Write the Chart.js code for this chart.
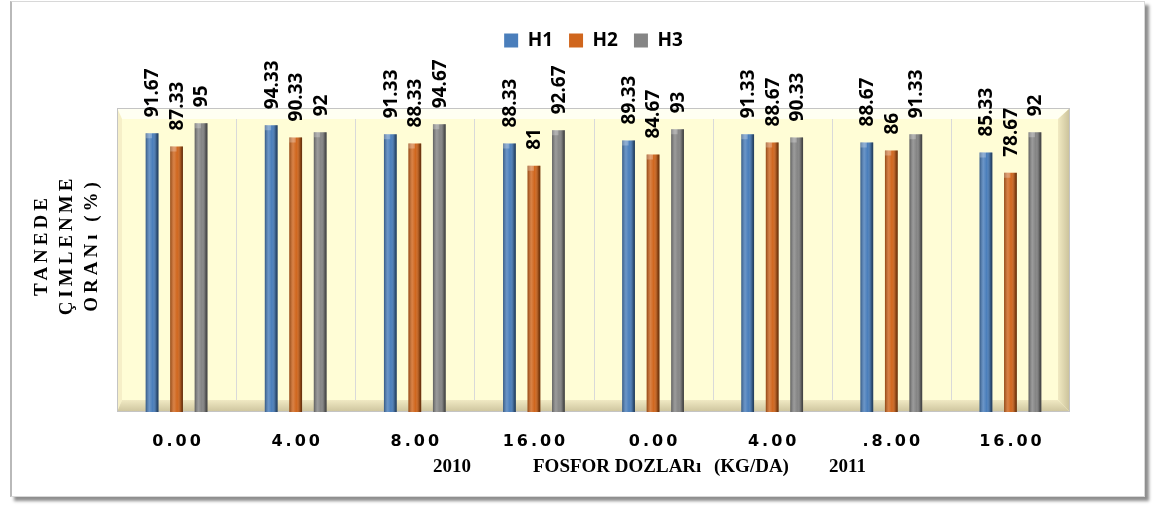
<!DOCTYPE html>
<html>
<head>
<meta charset="utf-8">
<script src="https://cdn.jsdelivr.net/npm/chart.js@4.4.0/dist/chart.umd.min.js"></script>
<style>
  html, body { margin: 0; padding: 0; background: #fff; }
  body { width: 1156px; height: 508px; position: relative; overflow: hidden; }
  .frame {
    position: absolute; left: 10px; top: 1px; width: 1132px; height: 494px;
    border: 1px solid #d8d8d8; border-left: 2px solid #b9b9b9;
    box-shadow: 4px 4px 3px #8e8e8e;
  }
  #wrap { position: absolute; left: 0; top: 0; width: 1156px; height: 508px; }
</style>
</head>
<body>
<div class="frame"></div>
<div id="wrap"><canvas id="chart"></canvas></div>
<script>
// phosphorus doses (kg/da), 2010 then 2011
const doses = ['0.00', '4.00', '8.00', '16.00', '0.00', '4.00', '.8.00', '16.00'];
const h1 = [91.67, 94.33, 91.33, 88.33, 89.33, 91.33, 88.67, 85.33];
const h2 = [87.33, 90.33, 88.33, 81, 84.67, 88.67, 86, 78.67];
const h3 = [95, 92, 94.67, 92.67, 93, 90.33, 91.33, 92];
const yTitle = ['TANEDE', 'ÇIMLENME', 'ORANı (%)'];
const xTitle = ['2010', 'FOSFOR DOZLARı', '(KG/DA)', '2011'];

function poly(ctx, pts, fill) {
    ctx.beginPath();
    ctx.moveTo(pts[0][0], pts[0][1]);
    pts.slice(1).forEach(p => ctx.lineTo(p[0], p[1]));
    ctx.closePath();
    ctx.fillStyle = fill;
    ctx.fill();
}

// beveled yellow back wall + category separators
const backdrop = {
    id: 'backdrop',
    beforeDraw(chart) {
        const { ctx, chartArea: a } = chart;
        const L = a.left, R = a.right, T = a.top, B = a.bottom;
        const il = L + 5, ir = R - 12, it = T + 11, ib = B - 12;
        ctx.save();
        ctx.fillStyle = '#fffdd6';
        ctx.fillRect(L, T, R - L, B - T);
        poly(ctx, [[L, T], [R, T], [ir, it], [il, it]], '#fffff2');
        poly(ctx, [[L, T], [il, it], [il, ib], [L, B]], '#f6efc8');
        let g = ctx.createLinearGradient(ir, 0, R, 0);
        g.addColorStop(0, '#f1eac2');
        g.addColorStop(1, '#c9c099');
        poly(ctx, [[R, T], [R, B], [ir, ib], [ir, it]], g);
        g = ctx.createLinearGradient(0, ib, 0, B);
        g.addColorStop(0, '#f0e9c3');
        g.addColorStop(1, '#cdc49d');
        poly(ctx, [[L, B], [R, B], [ir, ib], [il, ib]], g);
        ctx.strokeStyle = '#c4c4c4';
        ctx.lineWidth = 1;
        ctx.strokeRect(L + 0.5, T + 0.5, R - L - 1, B - T - 1);

        const x = chart.scales.x;
        ctx.strokeStyle = '#d9d9d9';
        for (let i = 1; i < doses.length; i++) {
            const px = Math.round((x.getPixelForValue(i - 1) + x.getPixelForValue(i)) / 2) + 0.5;
            ctx.beginPath();
            ctx.moveTo(px, it);
            ctx.lineTo(px, ib);
            ctx.stroke();
        }
        ctx.restore();
    }
};

// cylinder shading and rotated value labels on each bar
const barDecor = {
    id: 'barDecor',
    afterDatasetsDraw(chart) {
        const ctx = chart.ctx;
        ctx.save();
        chart.data.datasets.forEach((ds, di) => {
            chart.getDatasetMeta(di).data.forEach((bar, i) => {
                const w = bar.width, l = bar.x - w / 2;
                const g = ctx.createLinearGradient(l, 0, l + w, 0);
                g.addColorStop(0, 'rgba(0,0,0,0.30)');
                g.addColorStop(0.3, 'rgba(255,255,255,0.18)');
                g.addColorStop(0.55, 'rgba(255,255,255,0)');
                g.addColorStop(0.85, 'rgba(0,0,0,0.30)');
                g.addColorStop(1, 'rgba(0,0,0,0.55)');
                ctx.fillStyle = g;
                ctx.fillRect(l, bar.y, w, bar.base - bar.y);
                // pointed cap
                poly(ctx, [[l, bar.y], [bar.x, bar.y - 0.5], [bar.x, bar.y + 5], [l, bar.y + 5]], 'rgba(255,255,255,0.25)');

                ctx.save();
                ctx.translate(bar.x, bar.y - 16);
                ctx.rotate(-Math.PI / 2);
                ctx.font = '700 19px "Open Sans"';
                ctx.fillStyle = '#000';
                ctx.textAlign = 'left';
                ctx.textBaseline = 'middle';
                ctx.fillText(String(ds.data[i]), 0, 1);
                ctx.restore();
            });
        });
        ctx.restore();
    }
};

// spaced category labels and axis titles
const axisText = {
    id: 'axisText',
    afterDraw(chart) {
        const { ctx, chartArea: a } = chart;
        const x = chart.scales.x;
        ctx.save();
        ctx.fillStyle = '#000';
        ctx.textBaseline = 'middle';

        ctx.font = '700 16px "DejaVu Sans"';
        ctx.letterSpacing = '3px';
        ctx.textAlign = 'center';
        doses.forEach((d, i) => ctx.fillText(d, x.getPixelForValue(i) + 1.5, a.bottom + 30));

        ctx.letterSpacing = '0px';
        ctx.font = '700 19px "Liberation Serif"';
        ctx.textAlign = 'left';
        const xs = [433, 533, 714, 829];
        xTitle.forEach((t, i) => ctx.fillText(t, xs[i], a.bottom + 55));

        ctx.font = '700 19px "Liberation Serif"';
        ctx.letterSpacing = '4px';
        ctx.textAlign = 'center';
        yTitle.forEach((t, i) => {
            ctx.save();
            ctx.translate(42 + i * 25, 247);
            ctx.rotate(-Math.PI / 2);
            ctx.fillText(t, 2, 0);
            ctx.restore();
        });
        ctx.restore();
    }
};

// leave room between legend and plot for the value labels
const legendGap = {
    id: 'legendGap',
    beforeLayout(chart) {
        const lg = chart.legend;
        if (lg && !lg._gapped) {
            const fit = lg.fit;
            lg.fit = function () { fit.call(this); this.height = 93; };
            lg._gapped = true;
        }
    }
};

new Chart(document.getElementById('chart'), {
    type: 'bar',
    data: {
        labels: doses,
        datasets: [
            { label: 'H1', data: h1, backgroundColor: '#4a7ebb' },
            { label: 'H2', data: h2, backgroundColor: '#d0661d' },
            { label: 'H3', data: h3, backgroundColor: '#858585' }
        ]
    },
    options: {
        responsive: true,
        maintainAspectRatio: false,
        animation: false,
        layout: { padding: { left: 117, right: 86, top: 15, bottom: 96 } },
        datasets: { bar: { categoryPercentage: 0.617, barPercentage: 0.52, borderWidth: 0 } },
        plugins: {
            legend: {
                position: 'top',
                labels: {
                    boxWidth: 14, boxHeight: 14, padding: 16, color: '#000',
                    font: { family: 'Open Sans', weight: 'bold', size: 19 }
                }
            },
            tooltip: { enabled: false }
        },
        scales: {
            x: { display: false },
            y: { display: false, min: 0, max: 100 }
        }
    },
    plugins: [legendGap, backdrop, barDecor, axisText]
});
</script>
</body>
</html>
